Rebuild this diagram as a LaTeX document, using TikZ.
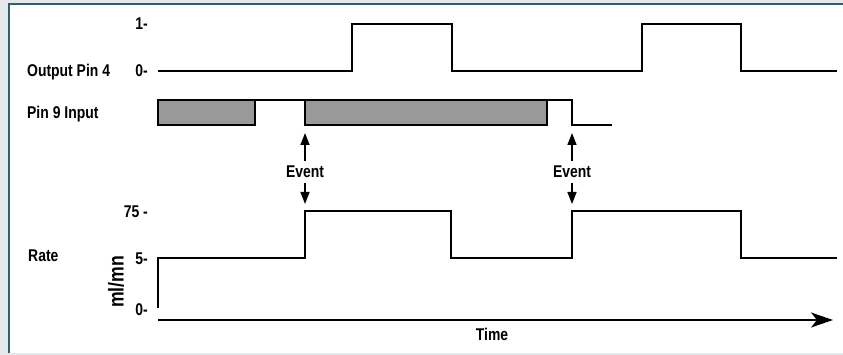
\documentclass[tikz,border=0pt]{standalone}
\usepackage{fontspec}
\setmainfont{Liberation Sans}[FakeStretch=0.82]
\usetikzlibrary{arrows.meta}
\definecolor{framecol}{HTML}{2F5F6E}
\definecolor{boxgrey}{HTML}{9A9899}
\definecolor{outercol}{HTML}{E4E8EA}
\begin{document}
\begin{tikzpicture}[x=1pt,y=-1pt,
  lab/.style={font=\bfseries\fontsize{17}{18}\selectfont, inner sep=0pt},
  sig/.style={line width=1.9pt, line join=miter},
  evarrow/.style={line width=1.6pt, -{Triangle[length=12pt,width=9pt]}}]
\useasboundingbox (0,0) rectangle (843,355);
\fill[outercol] (0,0) rectangle (843,355);
\fill[white] (9,4) rectangle (843,353);
\draw[framecol, line width=1.2pt] (9,353) -- (9,4) -- (843,4);

% labels
\node[lab, anchor=west] (outlab) at (27,72) {Output Pin 4};
\node[lab, anchor=east] (one) at (148,24) {1-};
\node[lab, anchor=east] (zero) at (148,71) {0-};
\node[lab, anchor=west] (pin9) at (27,114) {Pin 9 Input};
\node[lab, anchor=west] (rate) at (28,256) {Rate};
\node[lab, anchor=east] (r75) at (148,212) {75 -};
\node[lab, anchor=east] (r5) at (148,259) {5-};
\node[lab, anchor=east] (r0) at (148,310) {0-};
\node[lab, font=\bfseries\fontsize{21.5}{22}\selectfont, rotate=90] (unit) at (116,282) {ml/mn};
\node[lab] (time) at (492,334) {Time};
\node[lab, outer sep=5pt] (ev1) at (305,172) {Event};
\node[lab, outer sep=5pt] (ev2) at (572,172) {Event};

% output pin 4
\draw[sig] (158,71) -- (352,71) -- (352,24) -- (452,24) -- (452,71) -- (642,71) -- (642,24) -- (741,24) -- (741,71) -- (837,71);

% pin 9 input
\draw[sig, fill=boxgrey] (158,100) rectangle (255,125);
\draw[sig] (255,100) -- (305,100);
\draw[sig, fill=boxgrey] (305,100) rectangle (547,125);
\draw[sig] (547,100) -- (572,100) -- (572,125) -- (612,125);

% rate
\draw[sig] (158,308) -- (158,258) -- (305,258) -- (305,211) -- (451,211) -- (451,258) -- (572,258) -- (572,211) -- (741,211) -- (741,258) -- (837,258);

% time axis
\coordinate (t0) at (158,320);
\coordinate (t1) at (833,320);
\draw[sig, -{Stealth[length=22pt,width=15pt,inset=6pt]}] (t0) -- (t1);

% event arrows
\coordinate (e1u) at (305,133);
\coordinate (e1d) at (305,204);
\coordinate (e2u) at (572,133);
\coordinate (e2d) at (572,204);
\draw[evarrow] (ev1.north) -- (e1u);
\draw[evarrow] (ev1.south) -- (e1d);
\draw[evarrow] (ev2.north) -- (e2u);
\draw[evarrow] (ev2.south) -- (e2d);
\end{tikzpicture}
\end{document}
